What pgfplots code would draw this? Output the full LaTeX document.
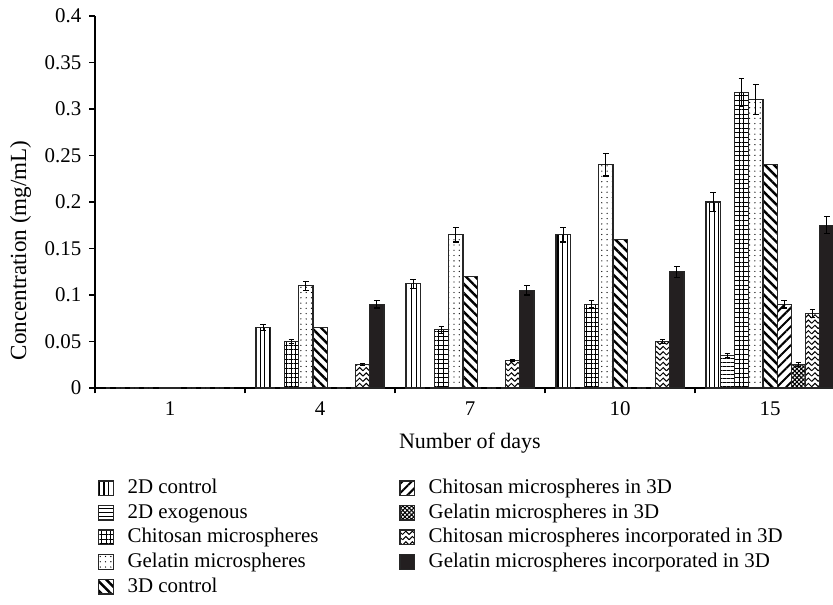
\documentclass[border=0pt]{standalone}
\usepackage{fontspec}
\setmainfont{Liberation Serif}
\usepackage{pgfplots}
\pgfplotsset{compat=1.18}
\usetikzlibrary{patterns,patterns.meta}

\pgfdeclarepatternformonly{zigzag}{\pgfpoint{-0.5pt}{-0.5pt}}{\pgfpoint{3.5pt}{2.9pt}}{\pgfpoint{3pt}{2.4pt}}{%
  \pgfsetlinewidth{0.45pt}%
  \pgfpathmoveto{\pgfpoint{0pt}{0.4pt}}%
  \pgfpathlineto{\pgfpoint{1.5pt}{1.9pt}}%
  \pgfpathlineto{\pgfpoint{3pt}{0.4pt}}%
  \pgfusepath{stroke}}

\definecolor{barblack}{HTML}{231F20}

\pgfplotsset{
  errs/.style={error bars/.cd, y dir=both, y explicit,
    error bar style={line width=0.5pt, black},
    error mark options={rotate=90, mark size=1.3pt, line width=0.5pt, black}},
}

\begin{document}
\begin{tikzpicture}[font=\fontsize{9.5}{11}\selectfont]
\begin{axis}[
  at={(0pt,0pt)}, anchor=south west,
  scale only axis,
  width=335.5pt, height=169.1pt,
  xmin=-0.5, xmax=4.42,
  ymin=0, ymax=0.4,
  axis x line*=bottom, axis y line*=left,
  axis line style={-, line width=0.6pt},
  ybar=0pt, bar width=0.0947,
  xtick={0,1,2,3,4},
  xticklabels={1,4,7,10,15},
  minor xtick={-0.5,0.5,1.5,2.5,3.5},
  every major x tick/.style={draw=none},
  tick align=outside,
  major tick length=2.7pt, minor tick length=2.4pt,
  tick style={line width=0.6pt, black},
  ytick={0,0.05,0.1,0.15,0.2,0.25,0.3,0.35,0.4},
  yticklabels={0,0.05,0.1,0.15,0.2,0.25,0.3,0.35,0.4},
  scaled y ticks=false,
  ticklabel style={font=\fontsize{9.5}{11}\selectfont},
  xlabel={Number of days},
  ylabel={Concentration (mg/mL)},
  xlabel style={at={(axis description cs:0.508,-0.148)}, anchor=center, font=\fontsize{10}{12}\selectfont},
  ylabel style={at={(axis description cs:-0.101,0.37)}, anchor=center, font=\fontsize{10.5}{12}\selectfont},
  every axis plot/.append style={draw=black!85, line width=0.55pt},
  legend columns=5, transpose legend,
  legend style={at={(axis description cs:0.0042,-0.2425)}, anchor=north west,
    draw=none, fill=none, inner sep=0pt, outer sep=0pt,
    row sep=2.2pt, column sep=0pt,
    font=\fontsize{9.5}{11}\selectfont,
    nodes={inner sep=0pt, text height=7pt, text depth=2pt}},
  legend cell align=left,
  legend image code/.code={%
    \draw[#1, line width=0.6pt] (0pt,-3.3pt) rectangle (6.6pt,3.3pt);
    \path[draw=none, fill=none] (0pt,0pt) rectangle (13.1pt,0.1pt);},
]
% 2D control
\addplot[draw=black!85, pattern={Lines[angle=90,distance=2.15pt,line width=0.5pt]}, errs]
  coordinates {(0,0) +- (0,0) (1,0.065) +- (0,0.003) (2,0.112) +- (0,0.005) (3,0.165) +- (0,0.008) (4,0.200) +- (0,0.010)};
\addlegendentry{\makebox[123.5pt][l]{2D control}}
% 2D exogenous
\addplot[draw=black!85, pattern={Lines[angle=0,distance=1.8pt,line width=0.45pt]}, errs]
  coordinates {(0,0) +- (0,0) (1,0) +- (0,0) (2,0) +- (0,0) (3,0) +- (0,0) (4,0.035) +- (0,0.002)};
\addlegendentry{\makebox[123.5pt][l]{2D exogenous}}
% Chitosan microspheres
\addplot[draw=black!85, pattern={Hatch[angle=0,distance=2.1pt,line width=0.45pt]}, errs]
  coordinates {(0,0) +- (0,0) (1,0.050) +- (0,0.0025) (2,0.0625) +- (0,0.0035) (3,0.090) +- (0,0.004) (4,0.3175) +- (0,0.015)};
\addlegendentry{\makebox[123.5pt][l]{Chitosan microspheres}}
% Gelatin microspheres
\addplot[draw=black!85, pattern={Dots[distance=2.4pt,radius=0.3pt]}, errs]
  coordinates {(0,0) +- (0,0) (1,0.110) +- (0,0.005) (2,0.165) +- (0,0.008) (3,0.240) +- (0,0.012) (4,0.310) +- (0,0.016)};
\addlegendentry{\makebox[123.5pt][l]{Gelatin microspheres}}
% 3D control
\addplot[draw=black!85, pattern={Lines[angle=-45,distance=3pt,line width=1.1pt]}]
  coordinates {(0,0) (1,0.065) (2,0.120) (3,0.160) (4,0.240)};
\addlegendentry{\makebox[123.5pt][l]{3D control}}
% Chitosan microspheres in 3D
\addplot[draw=black!85, pattern={Lines[angle=45,distance=3pt,line width=0.9pt]}, errs]
  coordinates {(0,0) +- (0,0) (1,0) +- (0,0) (2,0) +- (0,0) (3,0) +- (0,0) (4,0.090) +- (0,0.004)};
\addlegendentry{Chitosan microspheres in 3D}
% Gelatin microspheres in 3D
\addplot[draw=black!85, pattern={Hatch[angle=45,distance=1.4pt,line width=0.5pt]}, errs]
  coordinates {(0,0) +- (0,0) (1,0) +- (0,0) (2,0) +- (0,0) (3,0) +- (0,0) (4,0.025) +- (0,0.002)};
\addlegendentry{Gelatin microspheres in 3D}
% Chitosan microspheres incorporated in 3D
\addplot[draw=black!85, pattern=zigzag, errs]
  coordinates {(0,0) +- (0,0) (1,0.025) +- (0,0.001) (2,0.030) +- (0,0.001) (3,0.050) +- (0,0.0025) (4,0.080) +- (0,0.004)};
\addlegendentry{Chitosan microspheres incorporated in 3D}
% Gelatin microspheres incorporated in 3D
\addplot[draw=black!85, fill=barblack, errs]
  coordinates {(0,0) +- (0,0) (1,0.090) +- (0,0.004) (2,0.105) +- (0,0.005) (3,0.125) +- (0,0.006) (4,0.175) +- (0,0.009)};
\addlegendentry{Gelatin microspheres incorporated in 3D}
\end{axis}
\pgfresetboundingbox
\path[use as bounding box] (-43.2pt,-98.2pt) rectangle (335.5pt,176.4pt);
\end{tikzpicture}
\end{document}
